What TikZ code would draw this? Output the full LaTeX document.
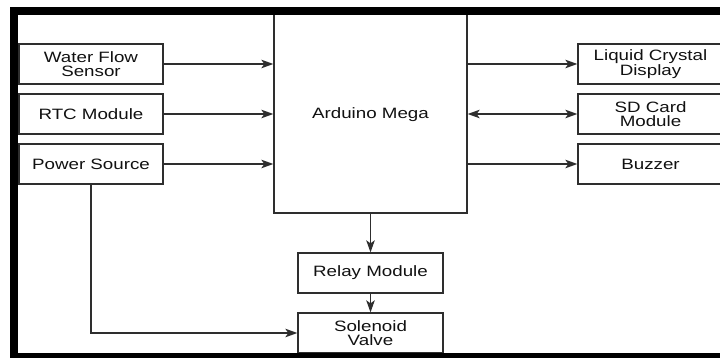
\documentclass[tikz,border=0pt]{standalone}
\usepackage{fontspec}
\setmainfont{Liberation Sans}[FakeStretch=1.25]
\usetikzlibrary{arrows.meta}
\definecolor{linec}{HTML}{2E2E2E}
\definecolor{textc}{HTML}{111111}
\tikzset{
  blk/.style={draw=linec, line width=1.3pt, fill=white, inner sep=0pt, align=center,
    text=textc, font=\fontsize{15}{14.6}\selectfont},
  arr/.style={draw=linec, line width=1.3pt, -{Stealth[length=12pt,width=8.5pt,inset=3pt]}},
  darr/.style={draw=linec, line width=1.3pt, {Stealth[length=12pt,width=8.5pt,inset=3pt]}-{Stealth[length=12pt,width=8.5pt,inset=3pt]}},
  frame/.style={fill=black, draw=none}
}
\begin{document}
\begin{tikzpicture}[x=1pt,y=-1pt]
\useasboundingbox (0,0) rectangle (720,358);
\fill[white] (0,0) rectangle (720,358);
% boxes
\node[blk, minimum width=193pt, minimum height=203pt] (ard) at (370.5,111.5) {};
\node[text=textc, font=\fontsize{15}{14.6}\selectfont] (ardtxt) at (370.5,115) {Arduino Mega};
\node[blk, minimum width=144pt, minimum height=40pt] (wfs) at (91,64) {Water Flow\\Sensor};
\node[blk, minimum width=144pt, minimum height=40pt] (rtc) at (91,114) {RTC Module};
\node[blk, minimum width=144pt, minimum height=40pt] (pwr) at (91,164) {Power Source};
\node[blk, minimum width=145pt, minimum height=40pt] (lcd) at (650.5,64) {Liquid Crystal\\Display};
\node[blk, minimum width=145pt, minimum height=40pt] (sd) at (650.5,114) {SD Card\\Module};
\node[blk, minimum width=145pt, minimum height=40pt] (buz) at (650.5,164) {Buzzer};
\node[blk, minimum width=145pt, minimum height=40pt] (rel) at (370.5,273) {Relay Module};
\node[blk, minimum width=145pt, minimum height=40pt] (sol) at (370.5,333) {Solenoid\\Valve};
% connectors
\draw[arr] (wfs.east) -- (wfs.east -| ard.west);
\draw[arr] (rtc.east) -- (rtc.east -| ard.west);
\draw[arr] (pwr.east) -- (pwr.east -| ard.west);
\draw[arr] (ard.east |- lcd.west) -- (lcd.west);
\draw[darr] (ard.east |- sd.west) -- (sd.west);
\draw[arr] (ard.east |- buz.west) -- (buz.west);
\draw[arr] (ard.south) -- (rel.north);
\draw[arr] (rel.south) -- (sol.north);
\draw[arr] (pwr.south) |- (sol.west);
% outer black frame
\fill[frame] (10,7) rectangle (740,15);
\fill[frame] (10,7) rectangle (17.5,370);
\fill[frame] (10,353) rectangle (740,370);
\end{tikzpicture}
\end{document}
